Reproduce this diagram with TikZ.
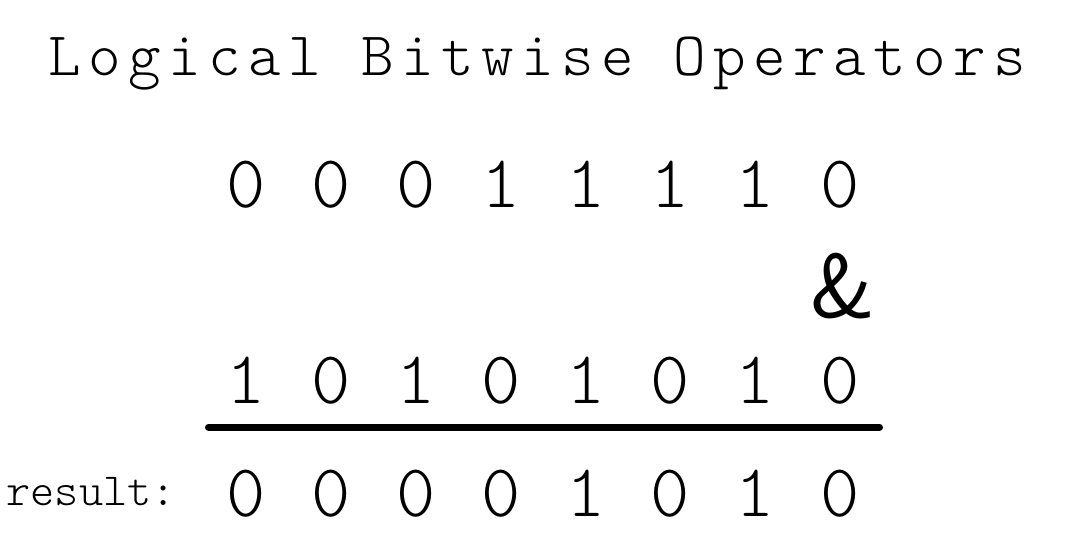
\documentclass[tikz,border=0pt]{standalone}
\usepackage{fontspec}
\newfontfamily\lmlight{lmmonolt10-regular}[Extension=.otf]
\newfontfamily\lmlightsp{lmmonolt10-regular}[Extension=.otf,LetterSpace=12]
\begin{document}
\begin{tikzpicture}[x=0.75pt,y=-0.75pt,
  titletext/.style={font=\lmlightsp\fontsize{46.5}{48}\selectfont, inner sep=0pt, anchor=base},
  bit/.style={font=\lmlight\fontsize{56}{58}\selectfont, inner sep=0pt, anchor=base},
  optext/.style={font=\sffamily\fontsize{68}{70}\selectfont, inner sep=0pt, anchor=base},
  labeltext/.style={font=\lmlight\fontsize{34.5}{36}\selectfont, inner sep=0pt, anchor=base east},
  rule/.style={line width=5.25pt, line cap=round}]
\useasboundingbox (0,0) rectangle (1070,554);
\node[titletext] (title) at (537.5,75) {Logical Bitwise Operators};
\foreach \b [count=\i from 0] in {0,0,0,1,1,1,1,0} {
  \node[bit] (a\i) at (246+84.9*\i,207) {\b};
}
\node[optext] (op) at (843,317) {\&};
\foreach \b [count=\i from 0] in {1,0,1,0,1,0,1,0} {
  \node[bit] (b\i) at (246+84.9*\i,403) {\b};
}
\coordinate (l1) at (208.5,427);
\coordinate (l2) at (879.5,427);
\draw[rule] (l1) -- (l2);
\foreach \b [count=\i from 0] in {0,0,0,0,1,0,1,0} {
  \node[bit] (r\i) at (246+84.9*\i,516) {\b};
}
\node[labeltext] (res) at (176,505) {result:};
\end{tikzpicture}
\end{document}
